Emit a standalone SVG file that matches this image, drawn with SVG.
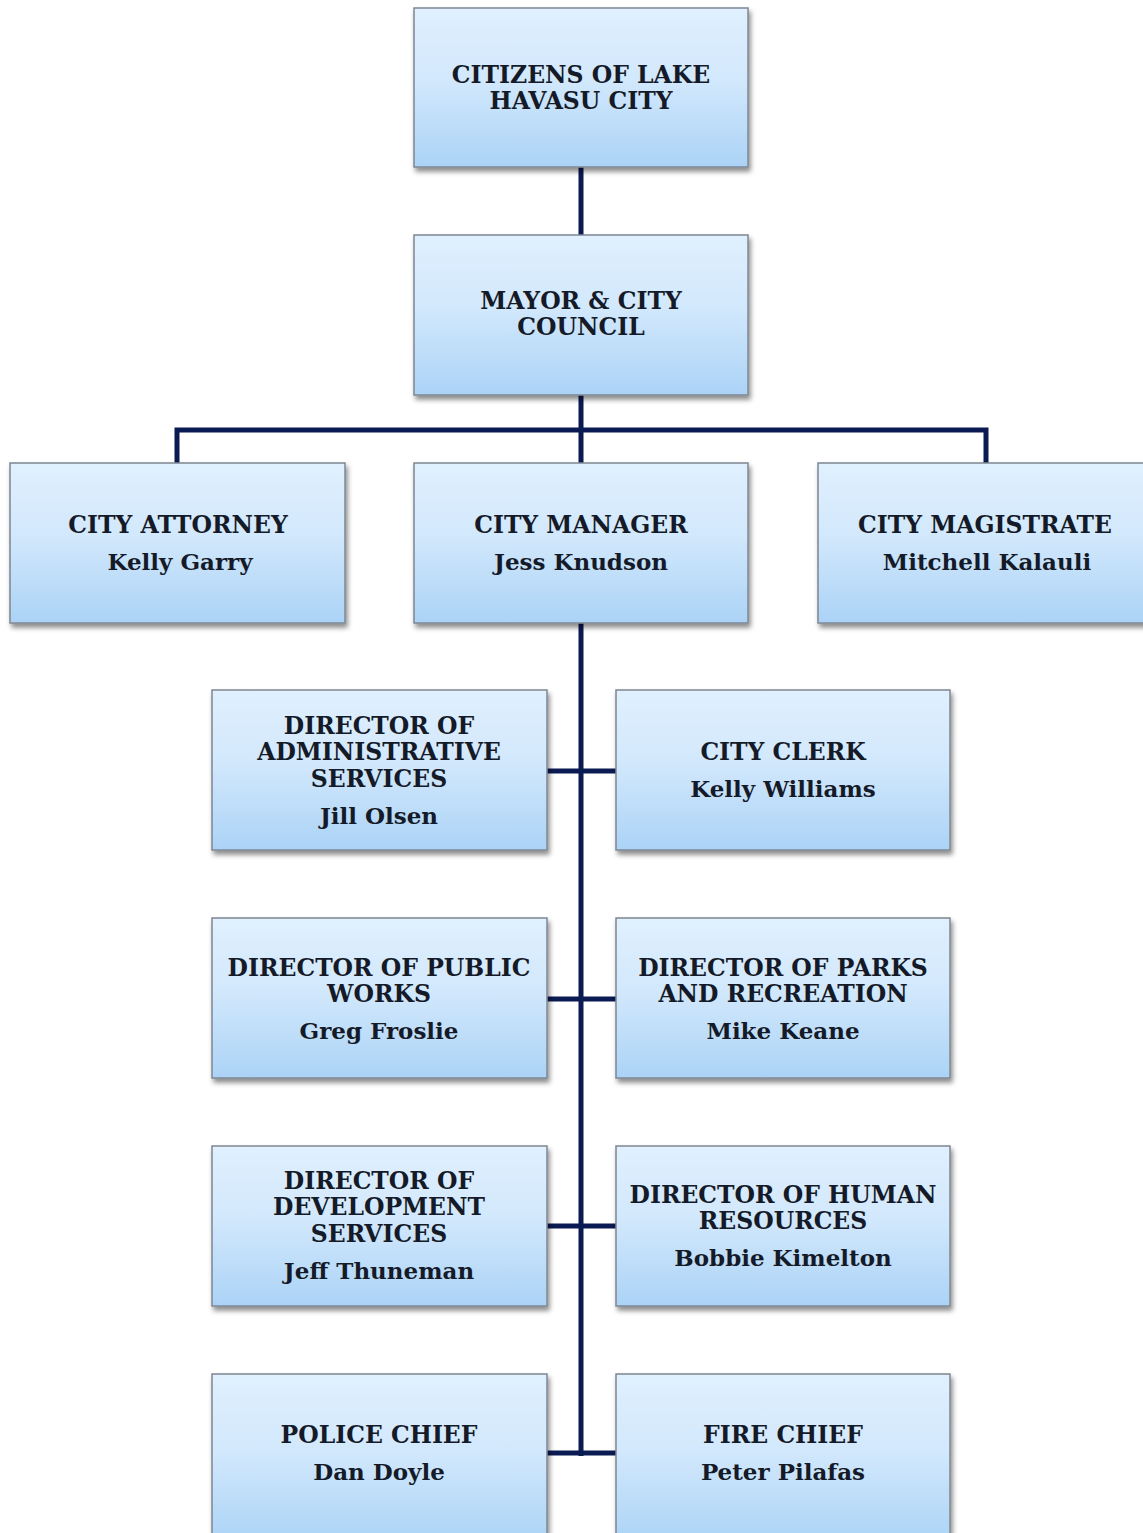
<svg xmlns="http://www.w3.org/2000/svg" width="1143" height="1533" viewBox="0 0 1143 1533">
<defs>
<linearGradient id="g" x1="0" y1="0" x2="0" y2="1">
<stop offset="0" stop-color="#e0f0fe"/>
<stop offset="0.45" stop-color="#d2e8fc"/>
<stop offset="1" stop-color="#abd3f6"/>
</linearGradient>
<filter id="sh" x="-5%" y="-5%" width="112%" height="120%">
<feDropShadow dx="2" dy="4" stdDeviation="2.5" flood-color="#000" flood-opacity="0.45"/>
</filter>
</defs>
<style>
.box{fill:url(#g);stroke:#7d8793;stroke-width:1.5;filter:url(#sh)}
.t{font-family:"DejaVu Serif","Liberation Serif",serif;font-weight:bold;font-size:23.5px;fill:#151a28;text-anchor:middle}
.n{font-size:23px}
.c{stroke:#0a1a52;stroke-width:5;fill:none}
</style>
<rect width="1143" height="1533" fill="#fff"/>
<g id="connectors">
<path class="c" d="M581 167V235M581 395V463M177 463V430H986V463M581 623V1456M547 771H616M547 999H616M547 1226H616M547 1453H616"/>
</g>
<g id="citizens"><rect class="box" x="414" y="8" width="334" height="159"/><text class="t" x="581" y="83">CITIZENS OF LAKE</text><text class="t" x="581" y="109">HAVASU CITY</text></g>
<g id="mayor"><rect class="box" x="414" y="235" width="334" height="160"/><text class="t" x="581" y="309">MAYOR &amp; CITY</text><text class="t" x="581" y="335">COUNCIL</text></g>
<g id="attorney"><rect class="box" x="10" y="463" width="335" height="160"/><text class="t" x="178" y="533">CITY ATTORNEY</text><text class="t n" x="180" y="570">Kelly Garry</text></g>
<g id="manager"><rect class="box" x="414" y="463" width="334" height="160"/><text class="t" x="581" y="533">CITY MANAGER</text><text class="t n" x="581" y="570">Jess Knudson</text></g>
<g id="magistrate"><rect class="box" x="818" y="463" width="334" height="160"/><text class="t" x="985" y="533">CITY MAGISTRATE</text><text class="t n" x="987" y="570">Mitchell Kalauli</text></g>
<g id="admin"><rect class="box" x="212" y="690" width="335" height="160"/><text class="t" x="379" y="734">DIRECTOR OF</text><text class="t" x="379" y="760">ADMINISTRATIVE</text><text class="t" x="379" y="787">SERVICES</text><text class="t n" x="379" y="824">Jill Olsen</text></g>
<g id="clerk"><rect class="box" x="616" y="690" width="334" height="160"/><text class="t" x="783" y="760">CITY CLERK</text><text class="t n" x="783" y="797">Kelly Williams</text></g>
<g id="publicworks"><rect class="box" x="212" y="918" width="335" height="160"/><text class="t" x="379" y="976">DIRECTOR OF PUBLIC</text><text class="t" x="379" y="1002">WORKS</text><text class="t n" x="379" y="1039">Greg Froslie</text></g>
<g id="parks"><rect class="box" x="616" y="918" width="334" height="160"/><text class="t" x="783" y="976">DIRECTOR OF PARKS</text><text class="t" x="783" y="1002">AND RECREATION</text><text class="t n" x="783" y="1039">Mike Keane</text></g>
<g id="development"><rect class="box" x="212" y="1146" width="335" height="160"/><text class="t" x="379" y="1189">DIRECTOR OF</text><text class="t" x="379" y="1215">DEVELOPMENT</text><text class="t" x="379" y="1242">SERVICES</text><text class="t n" x="379" y="1279">Jeff Thuneman</text></g>
<g id="hr"><rect class="box" x="616" y="1146" width="334" height="160"/><text class="t" x="783" y="1203">DIRECTOR OF HUMAN</text><text class="t" x="783" y="1229">RESOURCES</text><text class="t n" x="783" y="1266">Bobbie Kimelton</text></g>
<g id="police"><rect class="box" x="212" y="1374" width="335" height="170"/><text class="t" x="379" y="1443">POLICE CHIEF</text><text class="t n" x="379" y="1480">Dan Doyle</text></g>
<g id="fire"><rect class="box" x="616" y="1374" width="334" height="170"/><text class="t" x="783" y="1443">FIRE CHIEF</text><text class="t n" x="783" y="1480">Peter Pilafas</text></g>
</svg>
